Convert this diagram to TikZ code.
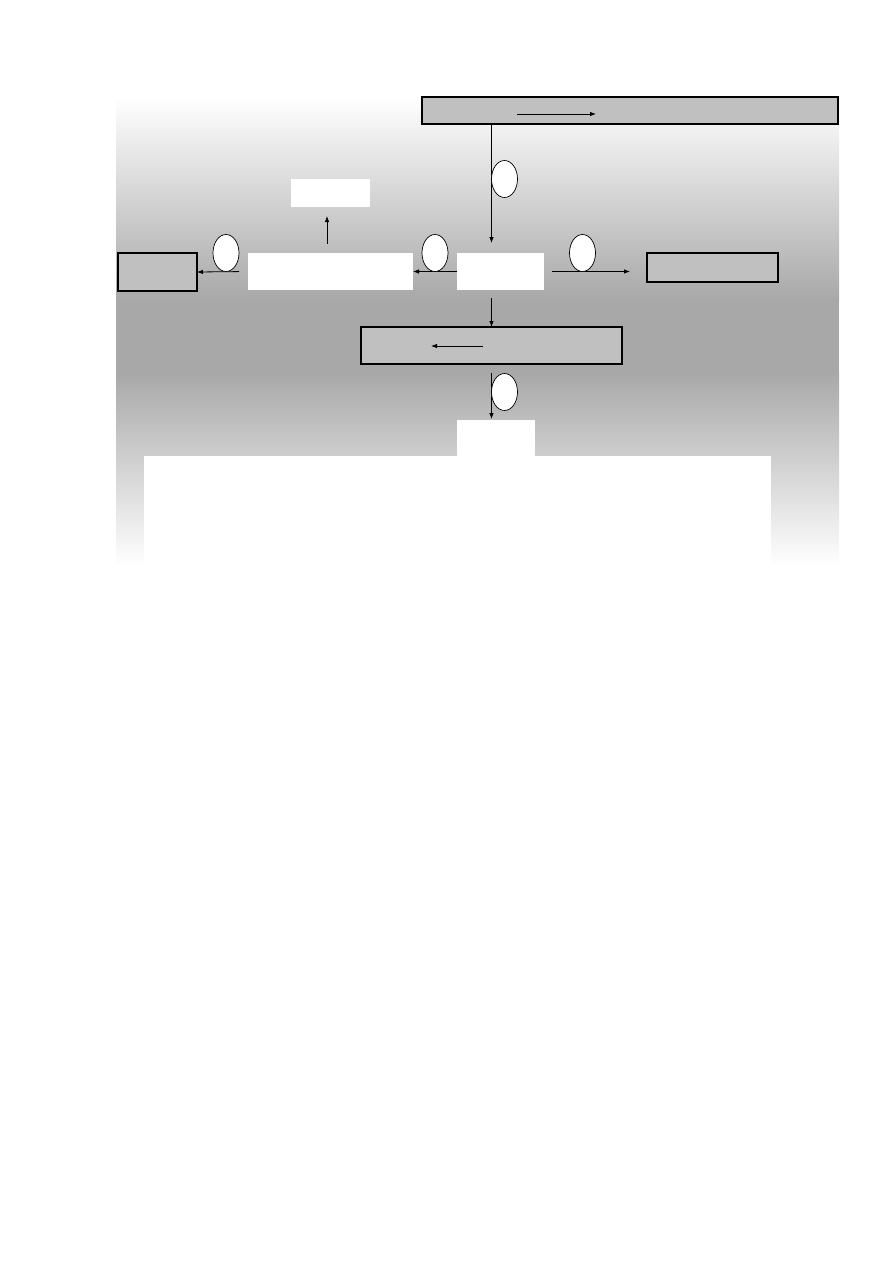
\documentclass[tikz,border=0pt]{standalone}
\usetikzlibrary{shapes.geometric,arrows.meta}
\definecolor{boxgrey}{HTML}{C0C0C0}
\definecolor{bggrey}{HTML}{A8A8A8}
\begin{document}
\begin{tikzpicture}[x=1pt,y=-1pt,
  greybox/.style={draw=black,line width=2.4pt,fill=boxgrey,inner sep=0pt,outer sep=0pt,anchor=north west},
  whitebox/.style={fill=white,inner sep=0pt,outer sep=0pt,anchor=north west},
  oval/.style={ellipse,draw=black,line width=0.7pt,fill=white,minimum width=26pt,minimum height=37pt,inner sep=0pt},
  arr/.style={-{Latex[length=6pt,width=4.5pt]},line width=0.8pt}]
\useasboundingbox (0,0) rectangle (893,1263);
% background panel
\shade[top color=white,bottom color=bggrey] (116,97) rectangle (839,300);
\fill[bggrey] (116,300) rectangle (839,372);
\shade[top color=bggrey,bottom color=white] (116,372) rectangle (839,566);
% white boxes
\node[whitebox,minimum width=627pt,minimum height=110pt] (big) at (144,456) {};
\node[whitebox,minimum width=78pt,minimum height=37pt] (bw) at (457,420) {};
\node[whitebox,minimum width=87pt,minimum height=37pt] (c) at (457,253) {};
\node[whitebox,minimum width=165pt,minimum height=37pt] (mw) at (248,253) {};
\node[whitebox,minimum width=79pt,minimum height=28pt] (sm) at (291,179) {};
% grey boxes
\node[greybox,minimum width=416pt,minimum height=27pt] (top) at (422,97) {};
\node[greybox,minimum width=261pt,minimum height=37pt] (bbox) at (361,327) {};
\node[greybox,minimum width=79pt,minimum height=38pt] (lbox) at (118,253) {};
\node[greybox,minimum width=131pt,minimum height=29pt] (rbox) at (647,253) {};
% inner arrows
\coordinate (ta1) at (517,114); \coordinate (ta2) at (596,114);
\draw[arr] (ta1) -- (ta2);
\coordinate (ba1) at (483,346); \coordinate (ba2) at (431,346);
\draw[arr] (ba1) -- (ba2);
% connectors
\draw[arr,shorten >=10pt] (top.south -| bbox.north) -- (c.north -| bbox.north);
\draw[arr] (c.west) -- (mw.east);
\draw[arr,shorten <=9pt] (mw.west) -- (lbox.east);
\draw[arr,shorten <=8pt,shorten >=17pt] (c.east) -- (c.east -| rbox.west);
\draw[arr,shorten <=9pt,shorten >=9pt] ([xshift=-3.5pt]mw.north) -- ([xshift=-3.5pt]sm.south);
\draw[arr,shorten <=8pt] (c.south -| bbox.north) -- (bbox.north);
\draw[arr,shorten <=9pt,shorten >=1pt] (bbox.south) -- (bbox.south |- bw.north);
% ovals
\node[oval] (e1) at (504.5,179) {};
\node[oval] (e2) at (435,253) {};
\node[oval] (e3) at (226,253) {};
\node[oval] (e4) at (582.5,253) {};
\node[oval] (e5) at (504.5,392) {};
\end{tikzpicture}
\end{document}
